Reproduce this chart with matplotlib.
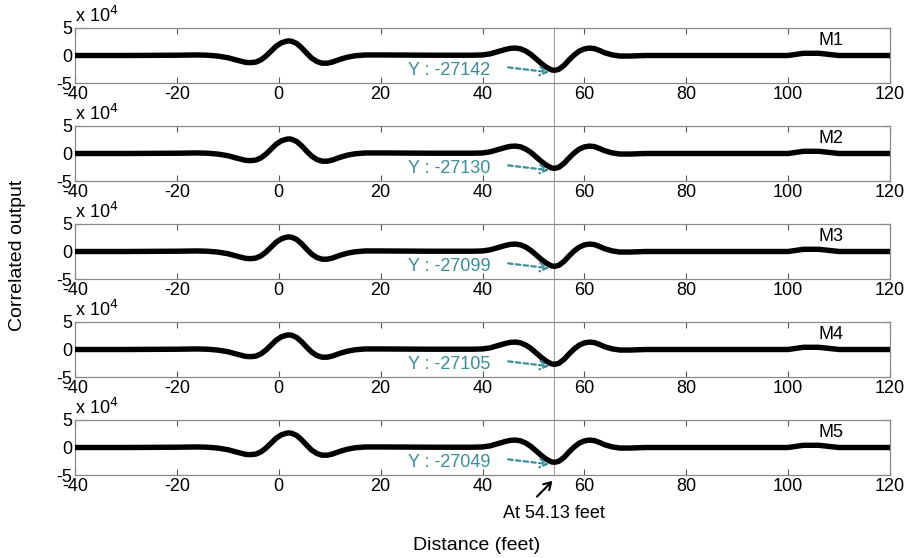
import matplotlib.pyplot as plt
from matplotlib.patches import ConnectionPatch

plt.rcParams['font.family'] = ['Liberation Sans', 'DejaVu Sans']
plt.rcParams['axes.unicode_minus'] = False

# distance (feet) and correlated output (x 1e4);
# the five traces are practically the same, only the read-out minimum differs
x_ft = [-40, -30, -20, -16, -14, -12, -10, -8, -6.5, -5.5, -4.5, -3.5, -2.5, -1.5,
        -0.5, 0.5, 1.5, 2, 2.5, 3.5, 4.5, 5.5, 6.5, 7.5, 8.5, 9.5, 10.5, 12, 13.5,
        15, 17, 20, 30, 38, 40, 41.5, 43, 44.5, 45.5, 46.5, 47.5, 48.5, 49.5, 50.5,
        51.5, 52.5, 53.5, 54.13, 55, 56, 57, 58, 59, 60, 61, 62, 63, 64, 65.5, 67,
        69, 72, 85, 100, 101.5, 103, 106, 108, 110, 120]
y_trace = [0, 0, 0.05, 0.1, 0.05, -0.1, -0.4, -0.9, -1.25, -1.3, -1.2, -0.8, -0.1, 0.8,
           1.7, 2.3, 2.6, 2.65, 2.6, 2.2, 1.4, 0.4, -0.5, -1.1, -1.4, -1.4, -1.2, -0.7,
           -0.3, -0.05, 0.1, 0.1, 0.05, 0.05, 0.1, 0.3, 0.7, 1.1, 1.3, 1.35, 1.2, 0.8,
           0.2, -0.6, -1.4, -2.1, -2.6, -2.7, -2.5, -1.8, -0.8, 0.1, 0.8, 1.2, 1.35,
           1.25, 0.9, 0.5, 0.1, -0.1, -0.1, 0, 0, 0, 0.2, 0.4, 0.4, 0.2, 0, 0]

names = ['M1', 'M2', 'M3', 'M4', 'M5']
min_vals = [-27142, -27130, -27099, -27105, -27049]
peak_x = 54.13
xticks = [-40, -20, 0, 20, 40, 60, 80, 100, 120]
yticks = [-5, 0, 5]

W, H = 909, 558
fig = plt.figure(figsize=(W / 100, H / 100), dpi=100)

left, right = 75, 890
tops = [28, 126, 224, 322, 420]
ph = 55
teal = '#3a8e98'
frame = '#8a8a8a'
fs = 13

axes = []
for top, name, mv in zip(tops, names, min_vals):
    ys = list(y_trace)
    ys[x_ft.index(peak_x)] = mv / 1e4
    ax = fig.add_axes([left / W, 1 - (top + ph) / H, (right - left) / W, ph / H])
    ax.set_facecolor('none')
    ax.plot(x_ft, ys, color='black', lw=3.9, solid_joinstyle='round',
            solid_capstyle='round', zorder=3)
    ax.set_xlim(-40, 120)
    ax.set_ylim(-5, 5)
    ax.set_xticks(xticks)
    ax.set_yticks(yticks)
    ax.tick_params(direction='in', length=4, top=True, right=True,
                   color='#555555', labelsize=fs, pad=2)
    for s in ax.spines.values():
        s.set_color(frame)
        s.set_linewidth(0.9)
    ax.text(0.0, 1.03, r'x 10$^4$', transform=ax.transAxes, fontsize=13,
            ha='left', va='bottom')
    ax.text(108.5, 2.8, name, fontsize=fs, ha='center', va='center')
    ax.annotate('', xy=(53.6, -3.1), xytext=(44.5, -2.1),
                arrowprops=dict(arrowstyle='->,head_length=0.5,head_width=0.3',
                                color=teal, lw=1.6, linestyle=(0, (2, 1.5))))
    ax.text(41.5, -2.75, 'Y : %d' % mv, color=teal, fontsize=fs,
            ha='right', va='center')
    axes.append(ax)

# thin vertical marker running through all panels, behind the traces
con = ConnectionPatch(xyA=(peak_x, 5), coordsA=axes[0].transData,
                      xyB=(peak_x, -5), coordsB=axes[-1].transData,
                      color='#a0a0a0', lw=0.8)
con.set_zorder(-1)
fig.add_artist(con)

axes[-1].annotate('', xy=(peak_x, -5.7), xytext=(50.3, -9.3),
                  annotation_clip=False,
                  arrowprops=dict(arrowstyle='->,head_length=0.5,head_width=0.3',
                                  color='black', lw=1.5))
fig.text(554 / W, 1 - 513 / H, 'At 54.13 feet', fontsize=fs, ha='center', va='center')
fig.text(477 / W, 1 - 545 / H, 'Distance (feet)', fontsize=14, ha='center', va='center')
fig.text(18 / W, 1 - 255 / H, 'Correlated output', fontsize=14, ha='center',
         va='center', rotation=90)

fig.savefig('out.png', dpi=100)
